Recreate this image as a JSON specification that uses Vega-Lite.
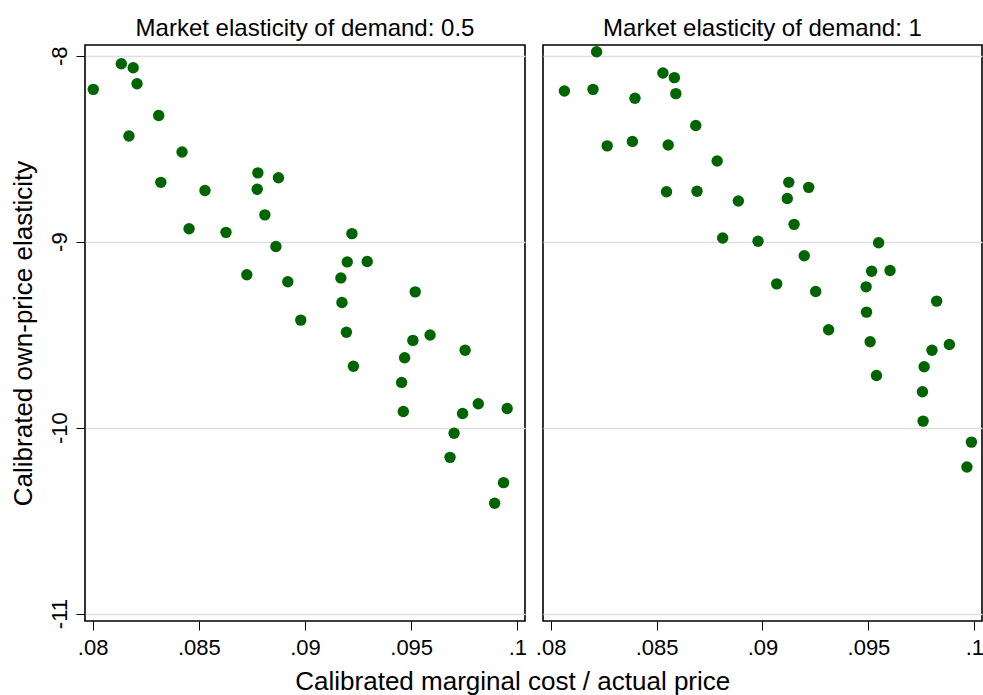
{
  "$schema": "https://vega.github.io/schema/vega-lite/v6.json",
  "background": "white",
  "padding": {"left": 9, "top": 16, "right": 0, "bottom": 0},
  "bounds": "flush",
  "title": {"text": "Calibrated marginal cost / actual price", "orient": "bottom", "anchor": "middle", "font": "Liberation Sans", "fontSize": 26, "fontWeight": "normal", "color": "black", "offset": 10, "dx": 16},
  "datasets": {
    "pts": [
      {"demand": 0.5, "mc": 0.08003, "e": -8.181},
      {"demand": 0.5, "mc": 0.08135, "e": -8.043},
      {"demand": 0.5, "mc": 0.08191, "e": -8.065},
      {"demand": 0.5, "mc": 0.08209, "e": -8.151},
      {"demand": 0.5, "mc": 0.08311, "e": -8.322},
      {"demand": 0.5, "mc": 0.08171, "e": -8.432},
      {"demand": 0.5, "mc": 0.08421, "e": -8.518},
      {"demand": 0.5, "mc": 0.08321, "e": -8.681},
      {"demand": 0.5, "mc": 0.08529, "e": -8.725},
      {"demand": 0.5, "mc": 0.08778, "e": -8.630},
      {"demand": 0.5, "mc": 0.08875, "e": -8.656},
      {"demand": 0.5, "mc": 0.08775, "e": -8.718},
      {"demand": 0.5, "mc": 0.08811, "e": -8.856},
      {"demand": 0.5, "mc": 0.08454, "e": -8.931},
      {"demand": 0.5, "mc": 0.08628, "e": -8.950},
      {"demand": 0.5, "mc": 0.08863, "e": -9.026},
      {"demand": 0.5, "mc": 0.08726, "e": -9.178},
      {"demand": 0.5, "mc": 0.08919, "e": -9.216},
      {"demand": 0.5, "mc": 0.08980, "e": -9.422},
      {"demand": 0.5, "mc": 0.09221, "e": -8.957},
      {"demand": 0.5, "mc": 0.09199, "e": -9.109},
      {"demand": 0.5, "mc": 0.09293, "e": -9.107},
      {"demand": 0.5, "mc": 0.09169, "e": -9.195},
      {"demand": 0.5, "mc": 0.09519, "e": -9.270},
      {"demand": 0.5, "mc": 0.09174, "e": -9.327},
      {"demand": 0.5, "mc": 0.09195, "e": -9.487},
      {"demand": 0.5, "mc": 0.09589, "e": -9.502},
      {"demand": 0.5, "mc": 0.09508, "e": -9.531},
      {"demand": 0.5, "mc": 0.09754, "e": -9.584},
      {"demand": 0.5, "mc": 0.09228, "e": -9.670},
      {"demand": 0.5, "mc": 0.09469, "e": -9.624},
      {"demand": 0.5, "mc": 0.09455, "e": -9.757},
      {"demand": 0.5, "mc": 0.09463, "e": -9.913},
      {"demand": 0.5, "mc": 0.09816, "e": -9.872},
      {"demand": 0.5, "mc": 0.09742, "e": -9.924},
      {"demand": 0.5, "mc": 0.09952, "e": -9.897},
      {"demand": 0.5, "mc": 0.09702, "e": -10.030},
      {"demand": 0.5, "mc": 0.09683, "e": -10.160},
      {"demand": 0.5, "mc": 0.09935, "e": -10.296},
      {"demand": 0.5, "mc": 0.09893, "e": -10.407},
      {"demand": 1, "mc": 0.08217, "e": -7.979},
      {"demand": 1, "mc": 0.08530, "e": -8.093},
      {"demand": 1, "mc": 0.08584, "e": -8.118},
      {"demand": 1, "mc": 0.08065, "e": -8.190},
      {"demand": 1, "mc": 0.08200, "e": -8.181},
      {"demand": 1, "mc": 0.08398, "e": -8.229},
      {"demand": 1, "mc": 0.08591, "e": -8.204},
      {"demand": 1, "mc": 0.08685, "e": -8.375},
      {"demand": 1, "mc": 0.08267, "e": -8.485},
      {"demand": 1, "mc": 0.08386, "e": -8.461},
      {"demand": 1, "mc": 0.08555, "e": -8.480},
      {"demand": 1, "mc": 0.08786, "e": -8.566},
      {"demand": 1, "mc": 0.08547, "e": -8.732},
      {"demand": 1, "mc": 0.08691, "e": -8.729},
      {"demand": 1, "mc": 0.08886, "e": -8.781},
      {"demand": 1, "mc": 0.09124, "e": -8.681},
      {"demand": 1, "mc": 0.09218, "e": -8.708},
      {"demand": 1, "mc": 0.09117, "e": -8.768},
      {"demand": 1, "mc": 0.09149, "e": -8.907},
      {"demand": 1, "mc": 0.08812, "e": -8.980},
      {"demand": 1, "mc": 0.08979, "e": -8.998},
      {"demand": 1, "mc": 0.09548, "e": -9.006},
      {"demand": 1, "mc": 0.09197, "e": -9.076},
      {"demand": 1, "mc": 0.09515, "e": -9.159},
      {"demand": 1, "mc": 0.09602, "e": -9.155},
      {"demand": 1, "mc": 0.09067, "e": -9.227},
      {"demand": 1, "mc": 0.09251, "e": -9.268},
      {"demand": 1, "mc": 0.09489, "e": -9.243},
      {"demand": 1, "mc": 0.09822, "e": -9.320},
      {"demand": 1, "mc": 0.09491, "e": -9.379},
      {"demand": 1, "mc": 0.09312, "e": -9.474},
      {"demand": 1, "mc": 0.09508, "e": -9.538},
      {"demand": 1, "mc": 0.09800, "e": -9.584},
      {"demand": 1, "mc": 0.09882, "e": -9.553},
      {"demand": 1, "mc": 0.09763, "e": -9.673},
      {"demand": 1, "mc": 0.09538, "e": -9.720},
      {"demand": 1, "mc": 0.09755, "e": -9.807},
      {"demand": 1, "mc": 0.09758, "e": -9.965},
      {"demand": 1, "mc": 0.09986, "e": -10.078},
      {"demand": 1, "mc": 0.09965, "e": -10.212}
    ]
  },
  "spacing": 18,
  "hconcat": [
    {
      "width": 440,
      "height": 576,
      "data": {"name": "pts"},
      "transform": [{"filter": "datum.demand == 0.5"}],
      "title": {"text": "Market elasticity of demand: 0.5", "font": "Liberation Sans", "fontSize": 24, "fontWeight": "normal", "color": "black", "offset": 4, "anchor": "middle"},
      "mark": {"type": "circle", "size": 130, "color": "#006400", "opacity": 1},
      "encoding": {
        "x": {"field": "mc", "type": "quantitative", "scale": {"domain": [0.07964, 0.10036], "nice": false, "zero": false},
              "axis": {"title": null, "values": [0.08, 0.085, 0.09, 0.095, 0.1], "labelExpr": "replace(format(datum.value, '.3~f'), '0.', '.')", "tickSize": 9, "labelPadding": 7, "domain": false, "grid": false, "labelOverlap": false, "labelFlush": false, "labelBound": false}},
        "y": {"field": "e", "type": "quantitative", "scale": {"domain": [-11.04, -7.9425], "nice": false, "zero": false},
              "axis": {"title": "Calibrated own-price elasticity", "values": [-8, -9, -10, -11], "labelExpr": "toString(datum.value)", "labelAngle": 270, "tickSize": 9, "labelPadding": 5, "titlePadding": 12, "domain": false, "grid": true, "labelOverlap": false, "labelFlush": false, "labelBound": false}}
      }
    },
    {
      "width": 439,
      "height": 576,
      "data": {"name": "pts"},
      "transform": [{"filter": "datum.demand == 1"}],
      "title": {"text": "Market elasticity of demand: 1", "font": "Liberation Sans", "fontSize": 24, "fontWeight": "normal", "color": "black", "offset": 4, "anchor": "middle"},
      "mark": {"type": "circle", "size": 130, "color": "#006400", "opacity": 1},
      "encoding": {
        "x": {"field": "mc", "type": "quantitative", "scale": {"domain": [0.07964, 0.10036], "nice": false, "zero": false},
              "axis": {"title": null, "values": [0.08, 0.085, 0.09, 0.095, 0.1], "labelExpr": "replace(format(datum.value, '.3~f'), '0.', '.')", "tickSize": 9, "labelPadding": 7, "domain": false, "grid": false, "labelOverlap": false, "labelFlush": false, "labelBound": false}},
        "y": {"field": "e", "type": "quantitative", "scale": {"domain": [-11.04, -7.9425], "nice": false, "zero": false},
              "axis": {"title": null, "values": [-8, -9, -10, -11], "labels": false, "ticks": false, "domain": false, "grid": true}}
      }
    }
  ],
  "config": {
    "view": {"stroke": "black", "strokeWidth": 1.6},
    "axis": {"labelFont": "Liberation Sans", "titleFont": "Liberation Sans", "labelColor": "black", "titleColor": "black", "tickColor": "black", "tickWidth": 1, "gridColor": "#e0e0e0", "gridWidth": 1.5, "labelFontSize": 22, "titleFontSize": 26, "titleFontWeight": "normal"}
  }
}
